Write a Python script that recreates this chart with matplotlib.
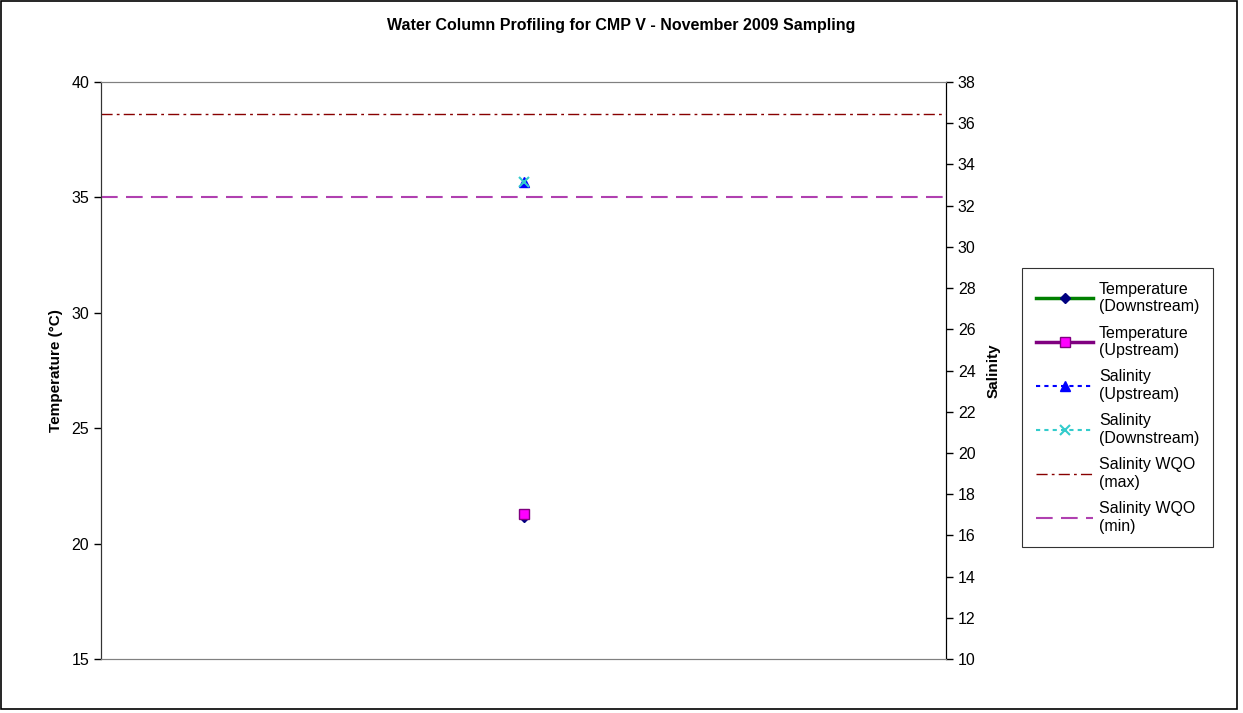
import matplotlib
matplotlib.use('Agg')
import matplotlib.pyplot as plt
from matplotlib.patches import Rectangle

plt.rcParams['font.family'] = ['Liberation Sans', 'DejaVu Sans']

# Дані профілювання (одна точка відбору)
sites = ['']
temp_down = [21.15]
temp_up = [21.3]
sal_up = [33.15]
sal_down = [33.15]
sal_wqo_max = 36.45
sal_wqo_min = 32.4

fig = plt.figure(figsize=(12.43, 7.13), dpi=100)
ax = fig.add_axes([0.0813, 0.0757, 0.6798, 0.8093])
ax2 = ax.twinx()

x = list(range(len(sites)))

l1, = ax.plot(x, temp_down, color='green', lw=2.5, marker='D', ms=5,
              mfc='#000080', mec='#000080', label='Temperature\n(Downstream)')
l2, = ax.plot(x, temp_up, color='purple', lw=2.5, marker='s', ms=7,
              mfc='magenta', mec='purple', label='Temperature\n(Upstream)')
l3, = ax2.plot(x, sal_up, color='blue', lw=1.5, ls=(0, (2, 2)), marker='^', ms=7,
               mfc='blue', mec='blue', label='Salinity\n(Upstream)')
l4, = ax2.plot(x, sal_down, color='#33CCCC', lw=1.5, ls=(0, (2, 2)), marker='x', ms=7,
               mew=1.5, label='Salinity\n(Downstream)')
l5 = ax2.axhline(sal_wqo_max, color='#880000', lw=1, ls=(0, (8, 3, 2, 3)),
                 label='Salinity WQO\n(max)')
l6 = ax2.axhline(sal_wqo_min, color='#B040B0', lw=1.5, ls=(0, (8, 4)),
                 label='Salinity WQO\n(min)')

ax.set_xlim(-0.5, 0.5)
ax.set_xticks([])
ax.set_ylim(15, 40)
ax.set_yticks(range(15, 41, 5))
ax2.set_ylim(10, 38)
ax2.set_yticks(range(10, 39, 2))

for a in (ax, ax2):
    a.spines['top'].set_color('#808080')
    a.spines['bottom'].set_color('#808080')
    a.spines['left'].set_color('#333333')
    a.spines['right'].set_color('#000000')
    a.tick_params(axis='y', labelsize=11.5, length=5, direction='out', width=1)

ax.set_ylabel('Temperature (°C)', fontsize=11, fontweight='bold', labelpad=6)
ax2.set_ylabel('Salinity', fontsize=11, fontweight='bold', labelpad=8)

fig.suptitle('Water Column Profiling for CMP V - November 2009 Sampling',
             fontsize=11.5, fontweight='bold', y=0.975)

leg = fig.legend(handles=[l1, l2, l3, l4, l5, l6], loc='upper left',
                 bbox_to_anchor=(0.8225, 0.624), borderaxespad=0,
                 fontsize=11.5, frameon=True,
                 fancybox=False, edgecolor='black', handlelength=3.6,
                 labelspacing=0.72, borderpad=0.85, handletextpad=0.35)
leg.get_frame().set_linewidth(0.8)

fig.patches.append(Rectangle((0.001, 0.006), 0.994, 0.992, transform=fig.transFigure,
                             fill=False, edgecolor='black', lw=1.2))

fig.savefig('out.png', dpi=100)
